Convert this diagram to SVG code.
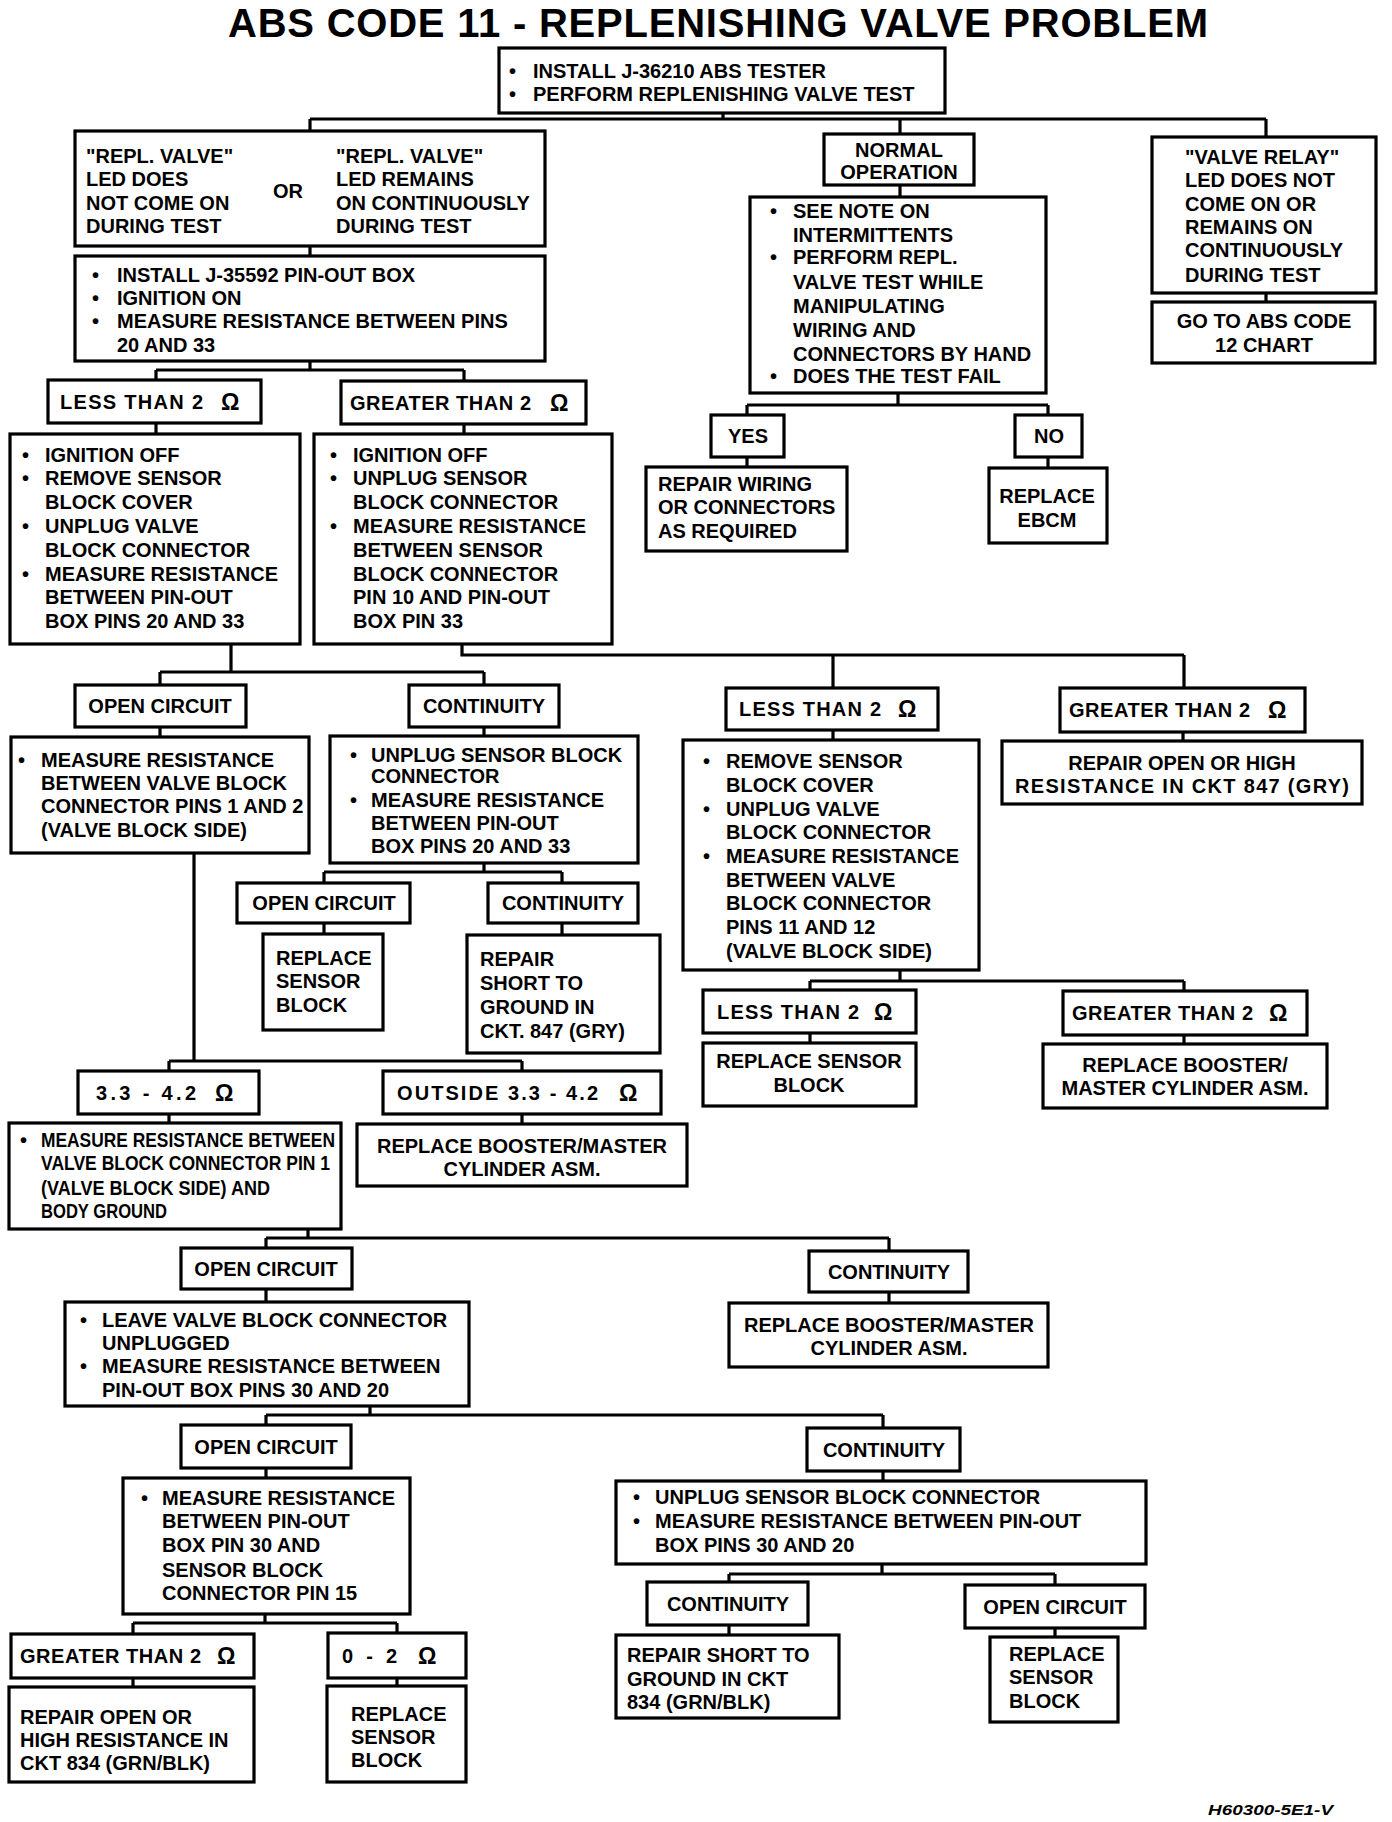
<svg xmlns="http://www.w3.org/2000/svg" width="1392" height="1822" viewBox="0 0 1392 1822">
<style>
rect{fill:#fff;stroke:#000;stroke-width:3.2}
text{font-family:"Liberation Sans",Arial,Helvetica,sans-serif;font-weight:bold;font-size:20px;fill:#000}
.c{text-anchor:middle}
.om{font-size:23px}
.ttl{font-size:40px}
.ft{font-size:15px;font-style:italic}
#conn path{fill:none;stroke:#000;stroke-width:3.2}
</style>
<rect x="0" y="0" width="1392" height="1822" style="stroke:none;fill:#fff"/>
<text id="title" x="228" y="37" class="ttl" textLength="980" lengthAdjust="spacing">ABS CODE 11 - REPLENISHING VALVE PROBLEM</text>
<g id="conn">
<path d="M723 113V119M310 119H1266M310 119V131M900 119V134M1266 119V137"/>
<path d="M310 246V256"/>
<path d="M310 361V370M156 370H464M156 370V380M464 370V381"/>
<path d="M156 423V434M464 424V434"/>
<path d="M231 644V672M160 672H484M160 672V685M484 672V685"/>
<path d="M462 644V655H1184M833 655V688M1184 655V688"/>
<path d="M160 727V737M484 727V736"/>
<path d="M833 730V740M1183 732V741"/>
<path d="M484 863V872M324 872H562M324 872V883M562 872V883"/>
<path d="M324 923V934M562 923V935"/>
<path d="M194 853V1061M169 1061H522M169 1061V1071M522 1061V1071"/>
<path d="M169 1114V1123M522 1114V1124"/>
<path d="M900 970V981M810 981H1184M810 981V990M1184 981V991"/>
<path d="M810 1033V1043M1184 1035V1044"/>
<path d="M308 1229V1238M266 1238H889M266 1238V1248M889 1238V1251"/>
<path d="M266 1289V1302M889 1292V1303"/>
<path d="M370 1406V1415M266 1415H883M266 1415V1425M883 1415V1428"/>
<path d="M266 1468V1478M883 1471V1481"/>
<path d="M265 1614V1623M133 1623H397M133 1623V1634M397 1623V1633"/>
<path d="M133 1678V1687M397 1678V1686"/>
<path d="M882 1564V1574M729 1574H1055M729 1574V1582M1055 1574V1585"/>
<path d="M729 1625V1635M1055 1628V1637"/>
<path d="M900 185V197"/>
<path d="M898 393V405M747 405H1048M747 405V415M1048 405V415"/>
<path d="M747 457V467M1048 457V468"/>
<path d="M1266 293V302"/>
</g>
<g id="n-start"><rect x="499" y="48" width="446" height="65"/>
<text><tspan x="509" y="78">•</tspan><tspan x="533">INSTALL J-36210 ABS  TESTER</tspan><tspan x="509" y="101">•</tspan><tspan x="533">PERFORM REPLENISHING VALVE TEST</tspan></text></g>
<g id="n-led"><rect x="75" y="131" width="470" height="115"/>
<text><tspan x="86" y="163">"REPL. VALVE"</tspan><tspan x="86" y="186">LED DOES</tspan><tspan x="86" y="210">NOT COME ON</tspan><tspan x="86" y="233">DURING TEST</tspan></text>
<text x="273" y="198">OR</text>
<text><tspan x="336" y="163">"REPL. VALVE"</tspan><tspan x="336" y="186">LED REMAINS</tspan><tspan x="336" y="210">ON CONTINUOUSLY</tspan><tspan x="336" y="233">DURING TEST</tspan></text></g>
<g id="n-install"><rect x="75" y="256" width="470" height="105"/>
<text><tspan x="92" y="282">•</tspan><tspan x="117">INSTALL J-35592 PIN-OUT BOX</tspan><tspan x="92" y="305">•</tspan><tspan x="117">IGNITION ON</tspan><tspan x="92" y="328">•</tspan><tspan x="117">MEASURE RESISTANCE BETWEEN PINS</tspan><tspan x="117" y="352">20 AND 33</tspan></text></g>
<g id="n-lt2a"><rect x="48" y="380" width="213" height="43"/><text x="60" y="409" textLength="143" lengthAdjust="spacing">LESS THAN 2</text><text class="om" x="221" y="410">Ω</text></g>
<g id="n-gt2a"><rect x="341" y="381" width="245" height="43"/><text x="350" y="410" textLength="181" lengthAdjust="spacing">GREATER THAN 2</text><text class="om" x="550" y="411">Ω</text></g>
<g id="n-ign1"><rect x="10" y="434" width="290" height="210"/>
<text><tspan x="22" y="462">•</tspan><tspan x="45">IGNITION OFF</tspan><tspan x="22" y="485">•</tspan><tspan x="45">REMOVE SENSOR</tspan><tspan x="45" y="509">BLOCK COVER</tspan><tspan x="22" y="533">•</tspan><tspan x="45">UNPLUG VALVE</tspan><tspan x="45" y="557">BLOCK CONNECTOR</tspan><tspan x="22" y="581">•</tspan><tspan x="45">MEASURE RESISTANCE</tspan><tspan x="45" y="604">BETWEEN PIN-OUT</tspan><tspan x="45" y="628">BOX PINS 20 AND 33</tspan></text></g>
<g id="n-ign2"><rect x="314" y="434" width="298" height="210"/>
<text><tspan x="330" y="462">•</tspan><tspan x="353">IGNITION OFF</tspan><tspan x="330" y="485">•</tspan><tspan x="353">UNPLUG SENSOR</tspan><tspan x="353" y="509">BLOCK CONNECTOR</tspan><tspan x="330" y="533">•</tspan><tspan x="353">MEASURE RESISTANCE</tspan><tspan x="353" y="557">BETWEEN SENSOR</tspan><tspan x="353" y="581">BLOCK CONNECTOR</tspan><tspan x="353" y="604">PIN 10 AND PIN-OUT</tspan><tspan x="353" y="628">BOX PIN 33</tspan></text></g>
<g id="n-open1"><rect x="75" y="685" width="171" height="42"/><text class="c" x="160" y="713">OPEN CIRCUIT</text></g>
<g id="n-cont1"><rect x="409" y="685" width="150" height="42"/><text class="c" x="484" y="713">CONTINUITY</text></g>
<g id="n-meas12"><rect x="11" y="737" width="298" height="116"/>
<text><tspan x="18" y="767">•</tspan><tspan x="41">MEASURE RESISTANCE</tspan><tspan x="41" y="790">BETWEEN VALVE BLOCK</tspan><tspan x="41" y="813">CONNECTOR PINS 1 AND 2</tspan><tspan x="41" y="837">(VALVE BLOCK SIDE)</tspan></text></g>
<g id="n-unplug1"><rect x="330" y="736" width="308" height="127"/>
<text><tspan x="350" y="762">•</tspan><tspan x="371">UNPLUG SENSOR BLOCK</tspan><tspan x="371" y="783">CONNECTOR</tspan><tspan x="350" y="807">•</tspan><tspan x="371">MEASURE RESISTANCE</tspan><tspan x="371" y="830">BETWEEN PIN-OUT</tspan><tspan x="371" y="853">BOX PINS 20 AND 33</tspan></text></g>
<g id="n-lt2b"><rect x="726" y="688" width="212" height="42"/><text x="739" y="716" textLength="142" lengthAdjust="spacing">LESS THAN 2</text><text class="om" x="898" y="717">Ω</text></g>
<g id="n-gt2b"><rect x="1060" y="688" width="245" height="44"/><text x="1069" y="717" textLength="181" lengthAdjust="spacing">GREATER THAN 2</text><text class="om" x="1268" y="718">Ω</text></g>
<g id="n-remove"><rect x="683" y="740" width="296" height="230"/>
<text><tspan x="703" y="768">•</tspan><tspan x="726">REMOVE SENSOR</tspan><tspan x="726" y="792">BLOCK COVER</tspan><tspan x="703" y="816">•</tspan><tspan x="726">UNPLUG VALVE</tspan><tspan x="726" y="839">BLOCK CONNECTOR</tspan><tspan x="703" y="863">•</tspan><tspan x="726">MEASURE RESISTANCE</tspan><tspan x="726" y="887">BETWEEN VALVE</tspan><tspan x="726" y="910">BLOCK CONNECTOR</tspan><tspan x="726" y="934">PINS 11 AND 12</tspan><tspan x="726" y="958">(VALVE BLOCK SIDE)</tspan></text></g>
<g id="n-repair847"><rect x="1002" y="741" width="360" height="63"/>
<text class="c"><tspan x="1182" y="770">REPAIR OPEN OR HIGH</tspan><tspan x="1182" y="793" textLength="334" lengthAdjust="spacing">RESISTANCE IN CKT 847 (GRY)</tspan></text></g>
<g id="n-open2"><rect x="237" y="883" width="173" height="40"/><text class="c" x="324" y="910">OPEN CIRCUIT</text></g>
<g id="n-cont2"><rect x="488" y="883" width="150" height="40"/><text class="c" x="563" y="910">CONTINUITY</text></g>
<g id="n-repsens1"><rect x="263" y="934" width="120" height="96"/>
<text><tspan x="276" y="965">REPLACE</tspan><tspan x="276" y="988">SENSOR</tspan><tspan x="276" y="1012">BLOCK</tspan></text></g>
<g id="n-short847"><rect x="467" y="935" width="193" height="118"/>
<text><tspan x="480" y="966">REPAIR</tspan><tspan x="480" y="990">SHORT TO</tspan><tspan x="480" y="1014">GROUND IN</tspan><tspan x="480" y="1038">CKT. 847 (GRY)</tspan></text></g>
<g id="n-range"><rect x="78" y="1071" width="181" height="43"/><text x="96" y="1100" textLength="100" lengthAdjust="spacing">3.3 - 4.2</text><text class="om" x="215" y="1101">Ω</text></g>
<g id="n-outside"><rect x="383" y="1071" width="278" height="43"/><text x="397" y="1100" textLength="201" lengthAdjust="spacing">OUTSIDE 3.3 - 4.2</text><text class="om" x="619" y="1101">Ω</text></g>
<g id="n-body"><rect x="9" y="1123" width="332" height="106"/>
<text><tspan x="20" y="1147">•</tspan><tspan x="41" textLength="294" lengthAdjust="spacingAndGlyphs">MEASURE RESISTANCE BETWEEN</tspan><tspan x="41" y="1170" textLength="289" lengthAdjust="spacingAndGlyphs">VALVE BLOCK CONNECTOR PIN 1</tspan><tspan x="41" y="1195" textLength="229" lengthAdjust="spacingAndGlyphs">(VALVE BLOCK SIDE) AND</tspan><tspan x="41" y="1218" textLength="126" lengthAdjust="spacingAndGlyphs">BODY GROUND</tspan></text></g>
<g id="n-booster1"><rect x="357" y="1124" width="330" height="62"/>
<text class="c"><tspan x="522" y="1153">REPLACE BOOSTER/MASTER</tspan><tspan x="522" y="1176">CYLINDER ASM.</tspan></text></g>
<g id="n-lt2c"><rect x="703" y="990" width="213" height="43"/><text x="717" y="1019" textLength="142" lengthAdjust="spacing">LESS THAN 2</text><text class="om" x="874" y="1020">Ω</text></g>
<g id="n-gt2c"><rect x="1063" y="991" width="244" height="44"/><text x="1072" y="1020" textLength="181" lengthAdjust="spacing">GREATER THAN 2</text><text class="om" x="1269" y="1021">Ω</text></g>
<g id="n-repsens2"><rect x="703" y="1043" width="213" height="63"/>
<text class="c"><tspan x="809" y="1068">REPLACE SENSOR</tspan><tspan x="809" y="1092">BLOCK</tspan></text></g>
<g id="n-booster2"><rect x="1043" y="1044" width="284" height="64"/>
<text class="c"><tspan x="1185" y="1072">REPLACE BOOSTER/</tspan><tspan x="1185" y="1095">MASTER CYLINDER ASM.</tspan></text></g>
<g id="n-open3"><rect x="181" y="1248" width="171" height="41"/><text class="c" x="266" y="1276">OPEN CIRCUIT</text></g>
<g id="n-cont3"><rect x="809" y="1251" width="159" height="41"/><text class="c" x="889" y="1279">CONTINUITY</text></g>
<g id="n-leave"><rect x="65" y="1302" width="404" height="104"/>
<text><tspan x="80" y="1327">•</tspan><tspan x="102">LEAVE VALVE BLOCK CONNECTOR</tspan><tspan x="102" y="1350">UNPLUGGED</tspan><tspan x="80" y="1373">•</tspan><tspan x="102">MEASURE RESISTANCE BETWEEN</tspan><tspan x="102" y="1397">PIN-OUT BOX PINS 30 AND 20</tspan></text></g>
<g id="n-booster3"><rect x="729" y="1303" width="319" height="64"/>
<text class="c"><tspan x="889" y="1332">REPLACE BOOSTER/MASTER</tspan><tspan x="889" y="1355">CYLINDER ASM.</tspan></text></g>
<g id="n-open4"><rect x="181" y="1425" width="170" height="43"/><text class="c" x="266" y="1454">OPEN CIRCUIT</text></g>
<g id="n-cont4"><rect x="807" y="1428" width="153" height="43"/><text class="c" x="884" y="1457">CONTINUITY</text></g>
<g id="n-pin15"><rect x="123" y="1478" width="287" height="136"/>
<text><tspan x="141" y="1505">•</tspan><tspan x="162">MEASURE RESISTANCE</tspan><tspan x="162" y="1528">BETWEEN PIN-OUT</tspan><tspan x="162" y="1552">BOX PIN 30 AND</tspan><tspan x="162" y="1577">SENSOR BLOCK</tspan><tspan x="162" y="1600">CONNECTOR PIN 15</tspan></text></g>
<g id="n-unplug2"><rect x="616" y="1481" width="530" height="83"/>
<text><tspan x="633" y="1504">•</tspan><tspan x="655">UNPLUG SENSOR BLOCK CONNECTOR</tspan><tspan x="633" y="1528">•</tspan><tspan x="655">MEASURE RESISTANCE BETWEEN PIN-OUT</tspan><tspan x="655" y="1552">BOX PINS 30 AND 20</tspan></text></g>
<g id="n-gt2d"><rect x="11" y="1634" width="243" height="44"/><text x="20" y="1663" textLength="181" lengthAdjust="spacing">GREATER THAN 2</text><text class="om" x="217" y="1664">Ω</text></g>
<g id="n-zero2"><rect x="328" y="1633" width="138" height="45"/><text x="342" y="1663" textLength="55" lengthAdjust="spacing">0 - 2</text><text class="om" x="418" y="1664">Ω</text></g>
<g id="n-repair834"><rect x="9" y="1687" width="245" height="95"/>
<text><tspan x="20" y="1724">REPAIR OPEN OR</tspan><tspan x="20" y="1747">HIGH RESISTANCE IN</tspan><tspan x="20" y="1770">CKT 834 (GRN/BLK)</tspan></text></g>
<g id="n-repsens3"><rect x="327" y="1686" width="139" height="96"/>
<text><tspan x="351" y="1721">REPLACE</tspan><tspan x="351" y="1744">SENSOR</tspan><tspan x="351" y="1767">BLOCK</tspan></text></g>
<g id="n-cont5"><rect x="647" y="1582" width="161" height="43"/><text class="c" x="728" y="1611">CONTINUITY</text></g>
<g id="n-open5"><rect x="965" y="1585" width="180" height="43"/><text class="c" x="1055" y="1614">OPEN CIRCUIT</text></g>
<g id="n-short834"><rect x="616" y="1635" width="223" height="83"/>
<text><tspan x="627" y="1662">REPAIR SHORT TO</tspan><tspan x="627" y="1686">GROUND IN CKT</tspan><tspan x="627" y="1709">834 (GRN/BLK)</tspan></text></g>
<g id="n-repsens4"><rect x="990" y="1637" width="128" height="85"/>
<text><tspan x="1009" y="1661">REPLACE</tspan><tspan x="1009" y="1684">SENSOR</tspan><tspan x="1009" y="1708">BLOCK</tspan></text></g>
<g id="n-normal"><rect x="824" y="134" width="150" height="51"/>
<text class="c"><tspan x="899" y="157">NORMAL</tspan><tspan x="899" y="179">OPERATION</tspan></text></g>
<g id="n-note"><rect x="750" y="197" width="296" height="196"/>
<text><tspan x="770" y="218">•</tspan><tspan x="793">SEE NOTE ON</tspan><tspan x="793" y="242">INTERMITTENTS</tspan><tspan x="770" y="264">•</tspan><tspan x="793">PERFORM REPL.</tspan><tspan x="793" y="289">VALVE TEST WHILE</tspan><tspan x="793" y="313">MANIPULATING</tspan><tspan x="793" y="337">WIRING AND</tspan><tspan x="793" y="361">CONNECTORS BY HAND</tspan><tspan x="770" y="383">•</tspan><tspan x="793">DOES THE TEST FAIL</tspan></text></g>
<g id="n-yes"><rect x="711" y="415" width="73" height="42"/><text class="c" x="748" y="443">YES</text></g>
<g id="n-no"><rect x="1015" y="415" width="67" height="42"/><text class="c" x="1049" y="443">NO</text></g>
<g id="n-wiring"><rect x="646" y="467" width="201" height="84"/>
<text><tspan x="658" y="491">REPAIR WIRING</tspan><tspan x="658" y="514">OR CONNECTORS</tspan><tspan x="658" y="538">AS REQUIRED</tspan></text></g>
<g id="n-ebcm"><rect x="989" y="468" width="118" height="75"/>
<text class="c"><tspan x="1047" y="503">REPLACE</tspan><tspan x="1047" y="527">EBCM</tspan></text></g>
<g id="n-relay"><rect x="1152" y="137" width="224" height="156"/>
<text><tspan x="1185" y="164">"VALVE RELAY"</tspan><tspan x="1185" y="187">LED DOES NOT</tspan><tspan x="1185" y="211">COME ON OR</tspan><tspan x="1185" y="234">REMAINS ON</tspan><tspan x="1185" y="257">CONTINUOUSLY</tspan><tspan x="1185" y="282">DURING TEST</tspan></text></g>
<g id="n-code12"><rect x="1152" y="302" width="223" height="61"/>
<text class="c"><tspan x="1264" y="328">GO TO ABS CODE</tspan><tspan x="1264" y="352">12 CHART</tspan></text></g>
<text id="footer" class="ft" x="1208" y="1815" textLength="125" lengthAdjust="spacingAndGlyphs">H60300-5E1-V</text>
</svg>
